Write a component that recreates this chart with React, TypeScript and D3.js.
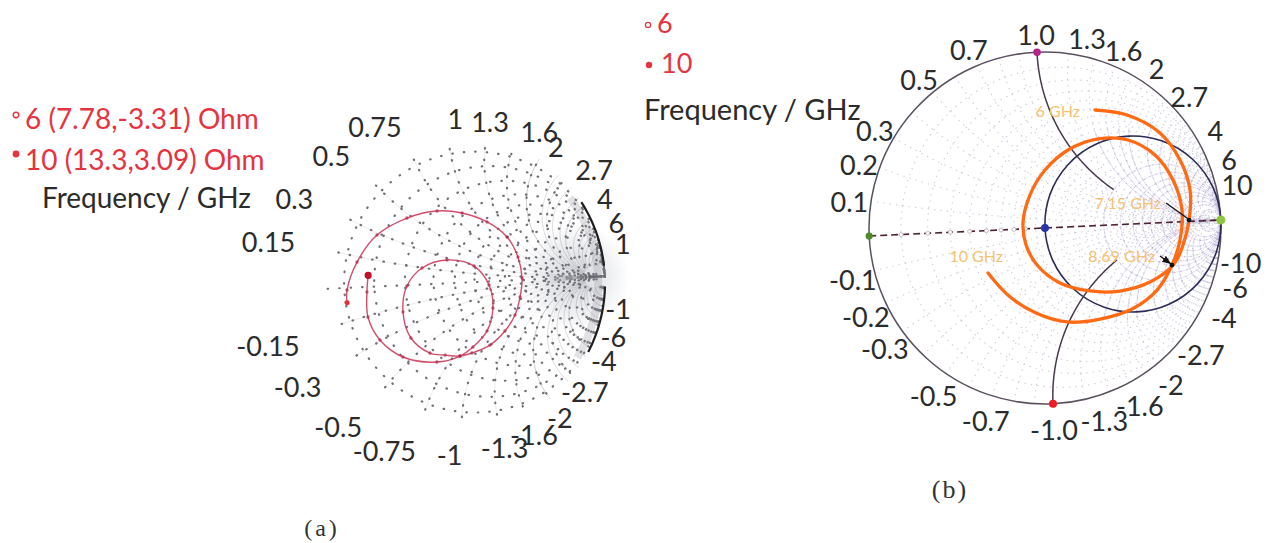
import React from "react";
import * as d3 from "d3";

// ---------- data ----------
const Z0 = 50;

// rim reactance ticks
const rimTicksA = [0.15, 0.3, 0.5, 0.75, 1, 1.3, 1.6, 2, 2.7, 4, 6, 10];
const rimTextA = ["0.15", "0.3", "0.5", "0.75", "1", "1.3", "1.6", "2", "2.7", "4", "6", "1"];
const rimTicksB = [0.1, 0.2, 0.3, 0.5, 0.7, 1.0, 1.3, 1.6, 2, 2.7, 4, 6, 10];
const rimTextB = ["0.1", "0.2", "0.3", "0.5", "0.7", "1.0", "1.3", "1.6", "2", "2.7", "4", "6", "10"];

// grid values
const gridCirclesA = [0.15, 0.3, 0.5, 0.75, 1, 1.3, 1.6, 2, 2.7, 4, 6, 10];
const gridArcsA = rimTicksA;
const rimShadeArcsA = [2, 2.5, 3, 3.5, 4, 5, 6, 7, 8, 10, 12, 15, 20, 30];
const gridB = [0.1, 0.2, 0.3, 0.4, 0.5, 0.6, 0.7, 0.8, 0.9, 1, 1.2, 1.4, 1.6, 1.8, 2, 2.5, 3, 3.5, 4, 5, 6, 8, 10, 15, 20, 50];
const axisTicksB = [0.1, 0.2, 0.3, 0.4, 0.5, 0.6, 0.7, 0.8];

// (a) measured reflection coefficient, 6 -> 10 GHz
const traceAre = [-0.725, -0.721, -0.646, -0.505, -0.3, -0.098, 0.068, 0.232, 0.36, 0.427, 0.448, 0.429, 0.39, 0.318, 0.214, 0.092, 0.011, -0.088, -0.188, -0.31, -0.355, -0.321, -0.215, -0.046, 0.132, 0.226, 0.245, 0.199, 0.1, 0.011, -0.144, -0.369, -0.517, -0.59, -0.589, -0.576];
const traceAim = [-0.099, -0.014, 0.169, 0.343, 0.447, 0.485, 0.464, 0.397, 0.291, 0.154, 0.013, -0.113, -0.231, -0.335, -0.424, -0.471, -0.488, -0.477, -0.459, -0.353, -0.177, -0.005, 0.11, 0.156, 0.107, -0.024, -0.178, -0.329, -0.432, -0.488, -0.521, -0.477, -0.357, -0.2, -0.033, 0.077];

// (a) marker readouts: frequency (GHz), R and X in Ohm
const markerFreqA = ["6", "10"];
const markerRA = [7.78, 13.3];
const markerXA = [-3.31, 3.09];

// (b) simulated reflection coefficient, 6 -> 10 GHz
const traceBre = [0.314, 0.495, 0.677, 0.784, 0.833, 0.82, 0.779, 0.723, 0.582, 0.409, 0.239, 0.071, -0.05, -0.112, -0.123, -0.077, 0.015, 0.151, 0.324, 0.494, 0.643, 0.739, 0.782, 0.763, 0.711, 0.62, 0.473, 0.289, 0.101, -0.073, -0.222, -0.335];
const traceBim = [0.657, 0.62, 0.51, 0.351, 0.178, 0.008, -0.132, -0.238, -0.334, -0.377, -0.369, -0.316, -0.214, -0.092, 0.04, 0.191, 0.329, 0.437, 0.492, 0.478, 0.386, 0.239, 0.067, -0.103, -0.243, -0.381, -0.482, -0.531, -0.539, -0.48, -0.377, -0.241];
const freqLabelsB = ["6 GHz", "7.15 GHz", "8.69 GHz", "10 GHz"];
const freqIndexB = [0, 5, 24, 31];
const legendB = ["6", "10"];

// ---------- layout ----------
const W = 1278;
const H = 543;
const TILT = 2.6; // degrees, counter-clockwise
const LA = { cx: 455, cy: 283, R: 150 };
const LB = { cx: 1045, cy: 228, R: 176 };
const FONT = "Lato, 'Open Sans', sans-serif";
const RED = "#e5333f";
const INK = "#2b2b2b";

// label placement for the (b) frequency tags
const freqTagB = [
  { dx: -15, dy: 7, pointer: false },
  { dx: -28, dy: -11, pointer: true },
  { dx: -17, dy: -3, pointer: true },
  { dx: 15, dy: -11, pointer: false },
];

// ---------- smith helpers ----------
function gammaOf(r: number, x: number): [number, number] {
  const den = (r + 1) * (r + 1) + x * x;
  return [(r * r + x * x - 1) / den, (2 * x) / den];
}

// samples along a constant-reactance arc, r = t/(1-t)
function arcPoints(x: number, tMax = 1, tMin = 0): [number, number][] {
  const pts: [number, number][] = [];
  const n = 240;
  for (let i = 0; i <= n; i++) {
    const t = tMin + (i / n) * (tMax - tMin);
    if (t >= 0.9995) {
      pts.push([1, 0]);
    } else {
      pts.push(gammaOf(t / (1 - t), x));
    }
  }
  return pts;
}

function makeScales(L: { cx: number; cy: number; R: number }) {
  const sx = d3.scaleLinear().domain([-1, 1]).range([L.cx - L.R, L.cx + L.R]);
  const sy = d3.scaleLinear().domain([-1, 1]).range([L.cy + L.R, L.cy - L.R]);
  const line = d3
    .line<[number, number]>()
    .x((d) => sx(d[0]))
    .y((d) => sy(d[1]));
  return { sx, sy, line };
}

// upright label position on the tilted chart
function rimPos(L: { cx: number; cy: number }, x: number, rr: number) {
  const g = gammaOf(0, x);
  const phi = Math.atan2(g[1], g[0]) + (TILT * Math.PI) / 180;
  return { px: L.cx + rr * Math.cos(phi), py: L.cy - rr * Math.sin(phi), c: Math.cos(phi), s: Math.sin(phi) };
}

function rCircle(sx: any, sy: any, r: number, props: any, key: string) {
  return <circle key={key} cx={sx(r / (1 + r))} cy={sy(0)} r={sx(1 / (1 + r)) - sx(0)} fill="none" {...props} />;
}

// ---------- panel (a) ----------
function PanelA() {
  const { sx, sy, line } = makeScales(LA);
  const smooth = d3
    .line<[number, number]>()
    .x((d) => sx(d[0]))
    .y((d) => sy(d[1]))
    .curve(d3.curveCatmullRom.alpha(0.5));
  const trace: [number, number][] = traceAre.map((v, i) => [v, traceAim[i]]);
  const markers = markerRA.map((r, i) => gammaOf(r / Z0, markerXA[i] / Z0));

  const dotted = { stroke: "#707076", strokeWidth: 2.2, strokeDasharray: "0.5 11", strokeLinecap: "round" as const };

  // dark wedge toward the open-circuit point
  const wedgeTop = arcPoints(0.55).filter((p) => p[0] > 0.62);
  const wedgeBot = arcPoints(-0.55).filter((p) => p[0] > 0.62).reverse();
  const wedge = line([...wedgeTop, ...wedgeBot]) + "Z";

  const rimArcUp = d3.range(4, 30.5, 1).map((a) => [Math.cos((a * Math.PI) / 180), Math.sin((a * Math.PI) / 180)] as [number, number]);
  const rimArcDn = rimArcUp.map((p) => [p[0], -p[1]] as [number, number]);
  const rimWide = d3.range(-34, 34.5, 1).map((a) => [0.955 * Math.cos((a * Math.PI) / 180), 0.955 * Math.sin((a * Math.PI) / 180)] as [number, number]);

  const labels = rimTicksA.flatMap((x, i) => [
    { x, t: rimTextA[i] },
    { x: -x, t: "-" + rimTextA[i] },
  ]);

  return (
    <g>
      <defs>
        <linearGradient id="wedgeA" gradientUnits="userSpaceOnUse" x1={sx(0.62)} x2={sx(1)} y1={0} y2={0}>
          <stop offset="0" stopColor="#c8c8d0" stopOpacity="0.2" />
          <stop offset="0.55" stopColor="#8e8e98" stopOpacity="0.7" />
          <stop offset="1" stopColor="#111" stopOpacity="1" />
        </linearGradient>
        <radialGradient id="hazeA" gradientUnits="userSpaceOnUse" cx={sx(0.8)} cy={sy(0)} r={55}>
          <stop offset="0" stopColor="#9aa0ac" stopOpacity="0.45" />
          <stop offset="1" stopColor="#9aa0ac" stopOpacity="0" />
        </radialGradient>
      </defs>
      <g transform={`rotate(${-TILT} ${LA.cx} ${LA.cy})`}>
        <circle cx={sx(0.8)} cy={sy(0)} r={55} fill="url(#hazeA)" />
        {/* faint reactance lines */}
        {gridArcsA.flatMap((x) => [x, -x]).map((x, i) => (
          <path key={"fa" + i} d={line(arcPoints(x, 1, 0.1)) || ""} fill="none" stroke="#e2e2e6" strokeWidth={0.7} />
        ))}
        {/* dotted grid */}
        {gridCirclesA.map((r, i) => rCircle(sx, sy, r, dotted, "ca" + i))}
        {gridArcsA.flatMap((x) => [x, -x]).map((x, i) => (
          <path key={"da" + i} d={line(arcPoints(x, 1, 0.1)) || ""} fill="none" {...dotted} />
        ))}
        <line x1={sx(-0.85)} x2={sx(1)} y1={sy(0)} y2={sy(0)} {...dotted} />
        {/* crowded arcs near the rim */}
        {rimShadeArcsA.flatMap((x) => [x, -x]).map((x, i) => (
          <path key={"ra" + i} d={line(arcPoints(x, 0.93)) || ""} fill="none" stroke="#6a6a78" strokeWidth={0.8} opacity={0.3} />
        ))}
        <path d={line(rimWide) || ""} fill="none" stroke="#8c8c98" strokeWidth={8} opacity={0.25} />
        <path d={line(rimArcUp) || ""} fill="none" stroke="#1e1e1e" strokeWidth={2.2} />
        <path d={line(rimArcDn) || ""} fill="none" stroke="#1e1e1e" strokeWidth={2.2} />
        <path d={wedge} fill="url(#wedgeA)" />
        {/* trace */}
        <path d={smooth(trace) || ""} fill="none" stroke="#cf3a5c" strokeWidth={1.4} opacity={0.9} />
        {trace.map((p, i) => (
          <circle key={"td" + i} cx={sx(p[0])} cy={sy(p[1])} r={1.7} fill="#a8284a" opacity={0.7} />
        ))}
        {markers.map((g, i) => (
          <circle key={"mk" + i} cx={sx(g[0])} cy={sy(g[1])} r={i === 0 ? 2.6 : 3.6} fill={i === 0 ? "#e0303c" : "#c0102a"} />
        ))}
      </g>
      {/* rim labels */}
      {labels.map((d, i) => {
        const p = rimPos(LA, d.x, 165);
        let anchor = "start";
        if (p.c < -0.1) anchor = "end";
        else if (p.s < 0) anchor = p.c < 0.1 ? "end" : "middle";
        else if (p.c > 0.1 && p.c < 0.3) anchor = "middle";
        const dy = p.s < -0.25 ? 7 : 0;
        return (
          <text key={"la" + i} x={p.px} y={p.py + dy} textAnchor={anchor} dominantBaseline="central" fontSize={27} fill={INK}>
            {d.t}
          </text>
        );
      })}
      {/* legend */}
      {markerFreqA.map((f, i) => (
        <g key={"lg" + i}>
          {i === 0 ? (
            <circle cx={16} cy={115} r={2.8} fill="none" stroke={RED} strokeWidth={1.4} />
          ) : (
            <circle cx={16} cy={154} r={3.4} fill={RED} />
          )}
          <text x={25} y={129 + i * 41} fontSize={28} fill={RED}>
            {`${f} (${markerRA[i]},${markerXA[i]}) Ohm`}
          </text>
        </g>
      ))}
      <text x={42} y={208} fontSize={28} fill={INK}>
        Frequency / GHz
      </text>
      <text x={322} y={536} fontSize={24} fill="#333" textAnchor="middle" fontFamily="'Liberation Serif', serif" letterSpacing={3}>
        (a)
      </text>
    </g>
  );
}

// ---------- panel (b) ----------
function PanelB() {
  const { sx, sy, line } = makeScales(LB);
  const smooth = d3
    .line<[number, number]>()
    .x((d) => sx(d[0]))
    .y((d) => sy(d[1]))
    .curve(d3.curveCatmullRom.alpha(0.5));
  const trace: [number, number][] = traceBre.map((v, i) => [v, traceBim[i]]);

  const gridDots = { stroke: "#a8a2c0", strokeWidth: 1.2, strokeDasharray: "0.4 6", strokeLinecap: "round" as const, opacity: 0.55 };
  const rot = (p: [number, number]) => {
    const a = (TILT * Math.PI) / 180;
    const u = p[0] * Math.cos(a) - p[1] * Math.sin(a);
    const v = p[0] * Math.sin(a) + p[1] * Math.cos(a);
    return { x: LB.cx + u * LB.R, y: LB.cy - v * LB.R };
  };

  return (
    <g>
      <defs>
        <marker id="arrB" viewBox="0 0 10 10" refX="9" refY="5" markerWidth="7" markerHeight="7" orient="auto">
          <path d="M0,1 L10,5 L0,9 Z" fill="#111" />
        </marker>
      </defs>
      <g transform={`rotate(${-TILT} ${LB.cx} ${LB.cy})`}>
        {gridB.map((r, i) => rCircle(sx, sy, r, gridDots, "cb" + i))}
        {gridB.flatMap((x) => [x, -x]).map((x, i) => (
          <path key={"ab" + i} d={line(arcPoints(x)) || ""} fill="none" {...gridDots} />
        ))}
        {/* denser shading toward the right */}
        {gridB.filter((x) => x >= 1.4).flatMap((x) => [x, -x]).map((x, i) => (
          <path key={"sb" + i} d={line(arcPoints(x, 0.9, 0.45)) || ""} fill="none" stroke="#a69cd4" strokeWidth={0.9} opacity={0.4} />
        ))}
        {gridB.filter((r) => r >= 2).map((r, i) =>
          rCircle(sx, sy, r, { stroke: "#a69cd4", strokeWidth: 0.9, opacity: 0.3 }, "sr" + i)
        )}
        {/* outer rim */}
        <circle cx={sx(0)} cy={sy(0)} r={LB.R} fill="none" stroke="#5a505e" strokeWidth={1.5} />
        {/* unit resistance circle */}
        {rCircle(sx, sy, 1, { stroke: "#2c2c58", strokeWidth: 1.6 }, "r1")}
        {/* unit reactance arcs */}
        {[1, -1].map((x) => (
          <path key={"x" + x} d={line(arcPoints(x, 2 / 3)) || ""} fill="none" stroke="#4a3a4e" strokeWidth={1.5} />
        ))}
        {/* real axis */}
        <line x1={sx(-1)} x2={sx(1)} y1={sy(0)} y2={sy(0)} stroke="#4e2235" strokeWidth={1.7} strokeDasharray="7 4" />
        {axisTicksB.map((r, i) => (
          <circle key={"at" + i} cx={sx((r - 1) / (r + 1))} cy={sy(0)} r={2} fill="#fff" stroke="#b8aab8" strokeWidth={0.8} />
        ))}
        {/* trace */}
        <path d={smooth(trace) || ""} fill="none" stroke="#ff6a12" strokeWidth={3.3} strokeLinecap="round" />
        {/* special points */}
        <circle cx={sx(-1)} cy={sy(0)} r={3.6} fill="#4f8a2a" />
        <circle cx={sx(1)} cy={sy(0)} r={4.6} fill="#8cc640" />
        <circle cx={sx(0)} cy={sy(1)} r={3.8} fill="#b4208c" />
        <circle cx={sx(0)} cy={sy(-1)} r={4} fill="#ee1c24" />
        <circle cx={sx(0)} cy={sy(0)} r={4} fill="#2a33a8" />
      </g>
      {/* frequency tags */}
      {freqIndexB.map((idx, i) => {
        const p = rot(trace[idx]);
        const tag = freqTagB[i];
        return (
          <g key={"fq" + i}>
            {tag.pointer && (
              <line x1={p.x + tag.dx + 5} y1={p.y + tag.dy - 6} x2={p.x - 1.5} y2={p.y - 1.5} stroke="#111" strokeWidth={1.3} markerEnd={i === 2 ? "url(#arrB)" : undefined} />
            )}
            {tag.pointer && <circle cx={p.x} cy={p.y} r={2.4} fill="#111" />}
            <text x={p.x + tag.dx} y={p.y + tag.dy} textAnchor="end" fontSize={16} fill="#f6c272">
              {freqLabelsB[i]}
            </text>
          </g>
        );
      })}
      {/* rim labels */}
      {rimTicksB.flatMap((x, i) => [
        { x, t: rimTextB[i] },
        { x: -x, t: "-" + rimTextB[i] },
      ]).map((d, i) => {
        const p = rimPos(LB, d.x, 198);
        return (
          <text key={"lb" + i} x={p.px} y={p.py + 4} textAnchor="middle" dominantBaseline="central" fontSize={27} fill={INK}>
            {d.t}
          </text>
        );
      })}
      {/* legend */}
      <circle cx={648} cy={25} r={2.6} fill="none" stroke={RED} strokeWidth={1.2} />
      <text x={657} y={33} fontSize={27} fill={RED}>
        {legendB[0]}
      </text>
      <circle cx={649} cy={65} r={3.2} fill={RED} />
      <text x={661} y={73} fontSize={27} fill={RED}>
        {legendB[1]}
      </text>
      <text x={644} y={120} fontSize={29} fill={INK}>
        Frequency / GHz
      </text>
      <text x={950} y={498} fontSize={26} fill="#333" textAnchor="middle" fontFamily="'Liberation Serif', serif" letterSpacing={2}>
        (b)
      </text>
    </g>
  );
}

export default function App() {
  return (
    <svg width={W} height={H} viewBox={`0 0 ${W} ${H}`} style={{ position: "absolute", left: 0, top: 0, background: "#fff" }} fontFamily={FONT}>
      <rect width={W} height={H} fill="#fff" />
      <PanelA />
      <PanelB />
    </svg>
  );
}
